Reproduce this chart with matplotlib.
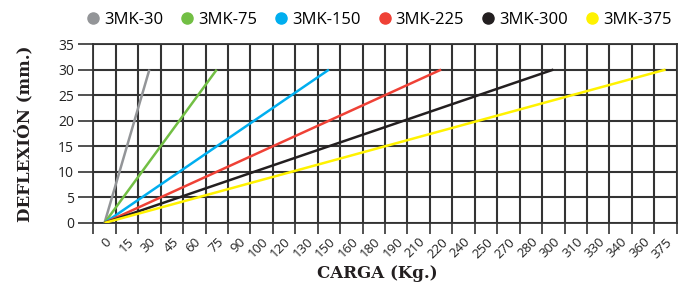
import matplotlib
matplotlib.use("Agg")
import matplotlib.pyplot as plt
import numpy as np

# Data
series_names = ["3MK-30", "3MK-75", "3MK-150", "3MK-225", "3MK-300", "3MK-375"]
max_load = [30, 75, 150, 225, 300, 375]      # Kg at 30 mm
max_defl = [30, 30, 30, 30, 30, 30]          # mm
colors = ["#939598", "#72bf44", "#00aeef", "#ef4136", "#231f20", "#fff200"]
tick_values = [0, 15, 30, 45, 60, 75, 90, 105, 120, 135, 150, 165, 180, 195, 210, 225,
               240, 255, 270, 285, 300, 315, 330, 345, 360, 375]
tick_labels = ["0", "15", "30", "45", "60", "75", "90", "100", "120", "130", "150", "160",
               "180", "190", "210", "220", "240", "250", "270", "280", "300", "310",
               "330", "340", "360", "375"]
y_ticks = [0, 5, 10, 15, 20, 25, 30, 35]

fig = plt.figure(figsize=(6.85, 2.88), dpi=100)
ax = fig.add_axes([0.1362, 0.226, 0.8518, 0.621])

grid_c = "#333333"
for name, xm, ym, c in zip(series_names, max_load, max_defl, colors):
    ax.plot([0, xm], [0, ym], color=c, lw=1.8, solid_capstyle="butt", label=name, zorder=3)

ax.set_xlim(-7.5, 382.5)
ax.set_ylim(0, 35)

minor_x = np.arange(-7.5, 383, 15)
ax.set_xticks(tick_values)
ax.set_xticklabels(tick_labels, rotation=45, ha="right", va="top", rotation_mode="anchor",
                   fontsize=9.5, family="Open Sans", color="#222222")
ax.set_xticks(minor_x, minor=True)
ax.tick_params(axis="x", which="major", length=0, pad=9)
ax.tick_params(axis="x", which="minor", length=8, width=1.2, color=grid_c, direction="out")
ax.set_yticks(y_ticks)
ax.set_yticklabels([str(v) for v in y_ticks], fontsize=10, family="Open Sans", color="#222222")
ax.tick_params(axis="y", which="major", length=11, width=1.2, color=grid_c, direction="out", pad=3)

# grid lines
ax.xaxis.grid(True, which="minor", color=grid_c, linewidth=1.5)
ax.yaxis.grid(True, which="major", color=grid_c, linewidth=1.5)
ax.xaxis.grid(False, which="major")
ax.set_axisbelow(True)
for s in ax.spines.values():
    s.set_color(grid_c)
    s.set_linewidth(1.3)

ax.set_xlabel("CARGA (Kg.)", fontsize=12, fontweight="bold", family="DejaVu Serif",
              color="#231f20")
ax.xaxis.set_label_coords(0.486, -0.235)
ax.set_ylabel("DEFLEXIÓN (mm.)", fontsize=12, fontweight="bold", family="DejaVu Serif",
              color="#231f20")
ax.yaxis.set_label_coords(-0.102, 0.5)

handles = [plt.Line2D([], [], marker="o", ls="none", color=c, markersize=8) for c in colors]
fig.legend(handles, series_names, loc="upper left", bbox_to_anchor=(0.102, 1.01), ncol=6,
           frameon=False, handletextpad=0.15, columnspacing=0.95, handlelength=1.0,
           prop={"family": "Open Sans", "size": 12})

fig.savefig("out.png", dpi=100)
